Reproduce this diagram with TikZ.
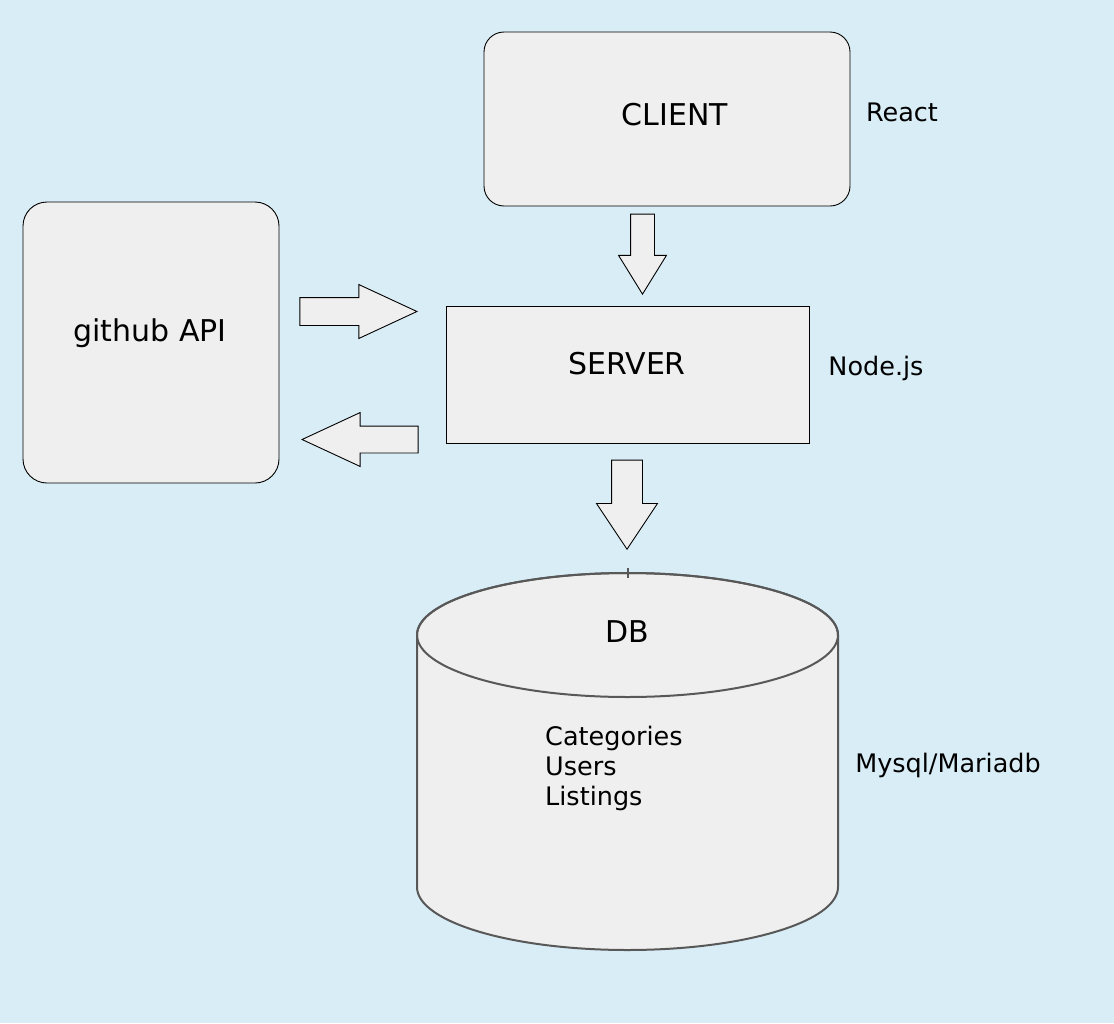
\documentclass[tikz,border=0pt]{standalone}
\usepackage{fontspec}
\setmainfont{DejaVu Sans}
\usetikzlibrary{positioning, shapes.arrows, shapes.geometric}
\definecolor{bgblue}{RGB}{217,237,246}
\definecolor{boxfill}{RGB}{239,239,239}
\definecolor{dbline}{RGB}{88,88,88}
\tikzset{
    box/.style={draw=black, fill=boxfill, line width=0.9pt, inner sep=0pt},
    bigtext/.style={font=\fontsize{30}{36}\selectfont},
    smalltext/.style={font=\fontsize{25.5}{30}\selectfont},
    blockarrow/.style={single arrow, draw=black, fill=boxfill, line width=0.9pt,
        inner xsep=0pt, single arrow head indent=0pt, anchor=tip}
}

\begin{document}
\begin{tikzpicture}[x=1pt, y=1pt]
            \fill[bgblue] (0,0) rectangle (1114,-1023);
            \useasboundingbox (0,0) rectangle (1114,-1023);

            % boxes
            \node[box, rounded corners=20pt, minimum width=366pt, minimum height=174pt] (client) at (667,-119) {};
            \node[box, rounded corners=24pt, minimum width=256pt, minimum height=281pt] (github) at (151,-342.5) {};
            \node[box, minimum width=363pt, minimum height=137pt] (server) at (627.5,-374.5) {};

            \node[bigtext] (clienttxt) at (675,-115) {CLIENT};
            \node[bigtext] (githubtxt) at (150,-333) {github API};
            \node[bigtext] (servertxt) at (627,-364) {SERVER};

            \node[smalltext] (react) at (902,-112) {React};
            \node[smalltext] (nodejs) at (876,-368) {Node.js};
            \node[smalltext] (mysql) at (948,-765) {Mysql/Mariadb};

            % block arrows, placed by their tips
            \node[blockarrow, rotate=-90, inner ysep=11.5pt, single arrow head extend=12pt,
                single arrow tip angle=63.4, minimum height=80pt] (cs) at (642.5,-295) {};
            \node[blockarrow, inner ysep=13.5pt, single arrow head extend=13pt,
                single arrow tip angle=49.8, minimum height=117pt] (gs) at (418,-311.5) {};
            \node[blockarrow, rotate=180, inner ysep=13pt, single arrow head extend=13.5pt,
                single arrow tip angle=49.8, minimum height=116pt] (sg) at (301,-439.5) {};
            \node[blockarrow, rotate=-90, inner ysep=15pt, single arrow head extend=15pt,
                single arrow tip angle=67.4, minimum height=89pt] (sd) at (627,-550) {};

            % database
            \filldraw[draw=dbline, fill=boxfill, line width=2pt]
                (417,-635) -- (417,-887) arc[start angle=180, end angle=360, x radius=210.5, y radius=63]
                -- (838,-635) arc[start angle=0, end angle=180, x radius=210.5, y radius=62] -- cycle;
            \draw[dbline, line width=2pt] (627.5,-635) ellipse[x radius=210.5, y radius=62];
            \coordinate (dbtop) at (628,-573);
            \draw[dbline, line width=2pt] ([yshift=5pt]dbtop) -- ([yshift=-5pt]dbtop);

            \node[bigtext] (db) at (627,-632) {DB};
            \node[smalltext, align=left, anchor=west, inner sep=0pt] (tables) at (545,-768)
                {Categories\\Users\\Listings};
        \end{tikzpicture}
\end{document}
